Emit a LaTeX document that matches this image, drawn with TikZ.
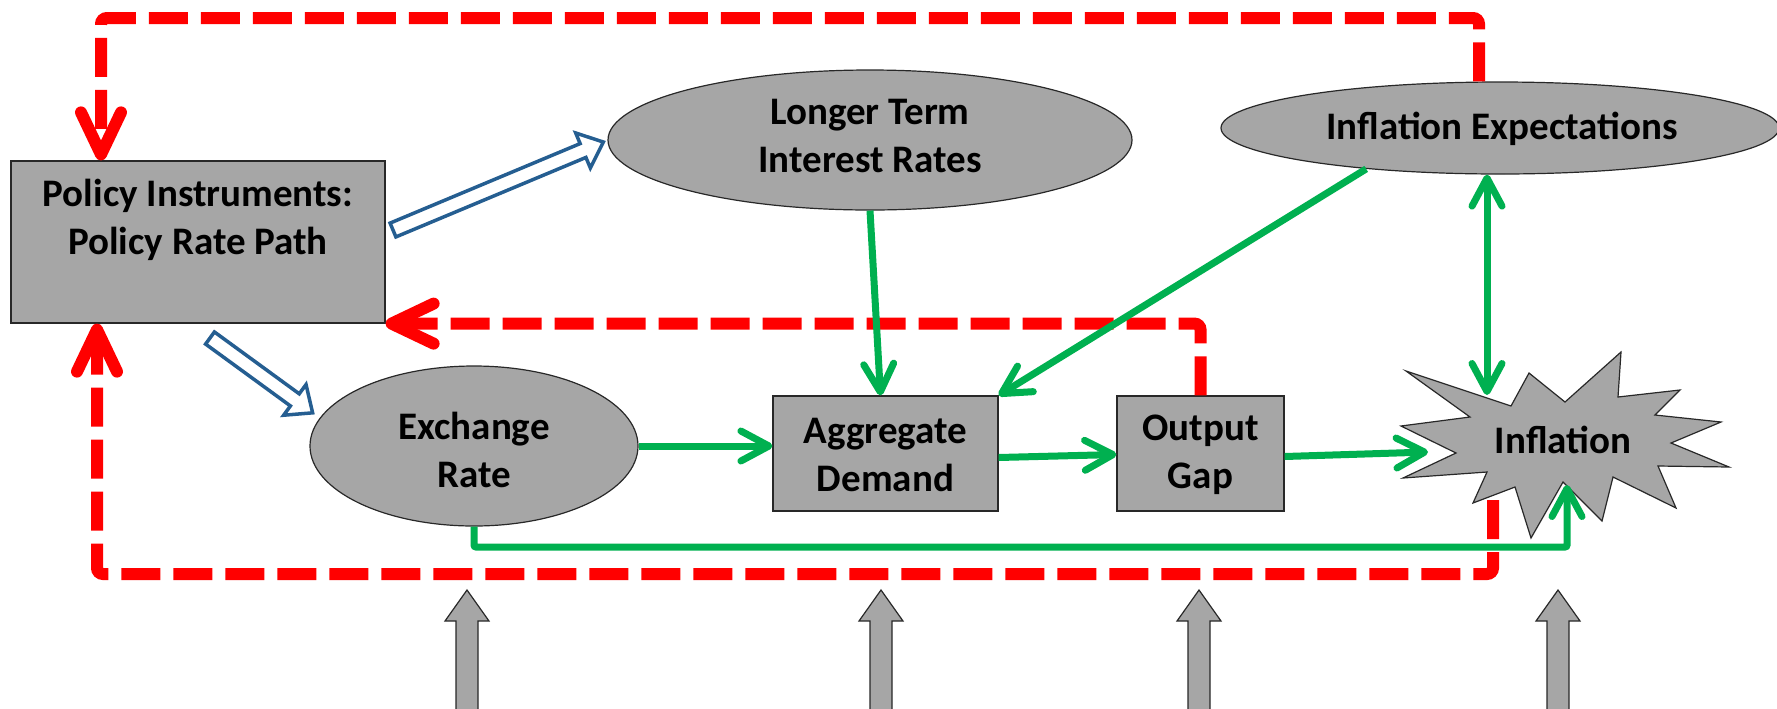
\documentclass[tikz,border=0pt]{standalone}
\usepackage{fontspec}
\setmainfont{Carlito}
\usetikzlibrary{arrows.meta,calc,shapes.geometric}
\definecolor{rl}{RGB}{255,0,0}
\definecolor{gl}{RGB}{0,176,80}
\definecolor{bl}{RGB}{37,94,145}
\definecolor{gf}{RGB}{166,166,166}
\definecolor{bd}{RGB}{40,40,40}
\begin{document}
\begin{tikzpicture}[x=0.5pt,y=-0.5pt,
  box/.style={draw=bd, line width=0.6pt, fill=gf, rectangle, inner sep=0pt},
  ell/.style={draw=bd, line width=0.6pt, fill=gf, ellipse, inner sep=0pt},
  lbl/.style={font=\fontsize{19.5pt}{24pt}\selectfont\bfseries, align=center, inner sep=0pt},
  redloop/.style={draw=rl, line width=6pt, rounded corners=3pt, dash pattern=on 19.5pt off 6.5pt, -{Straight Barb[length=21pt,width=20pt,round]}},
  garrow/.style={draw=gl, line width=3.5pt, -{Straight Barb[length=14pt,width=15pt,round]}},
  blockb/.style={draw=bl, line width=1.75pt, fill=white},
  blockg/.style={draw=bd, line width=0.6pt, fill=gf}]
\useasboundingbox (0,0) rectangle (1777,708);
% boxes and ellipses
\node[box, minimum width=187pt, minimum height=81pt] (pol) at (198,242) {};
\node[lbl] (poltext) at (198,220) {Policy Instruments:\\Policy Rate Path};
\node[ell, minimum width=262pt, minimum height=70pt] (lt) at (870,140) {};
\node[lbl] (lttext) at (870,136) {Longer Term\\Interest Rates};
\node[ell, minimum width=279pt, minimum height=46pt] (ie) at (1500,128) {};
\node[lbl] (ietext) at (1502,129) {Inflation Expectations};
\node[ell, minimum width=164pt, minimum height=80pt] (er) at (474,446) {};
\node[lbl] (ertext) at (474,450) {Exchange\\Rate};
\node[box, minimum width=112.5pt, minimum height=57.5pt] (ad) at (885.5,453.5) {};
\node[lbl] (adtext) at (885.5,455) {Aggregate\\Demand};
\node[box, minimum width=83.5pt, minimum height=57.5pt] (og) at (1200.5,453.5) {};
\node[lbl] (ogtext) at (1200.5,455) {Output\\Gap};
% starburst
\draw[blockg] (1406,371) -- (1511,406) -- (1529,373) -- (1565,402) -- (1621,352) -- (1618,397)
  -- (1680,390) -- (1655,415) -- (1721,422) -- (1671,443) -- (1729,467) -- (1658,466)
  -- (1676,508) -- (1613,477) -- (1602,521) -- (1563,482) -- (1531,538) -- (1515,487)
  -- (1473,503) -- (1487,472) -- (1403,478) -- (1456,453) -- (1401,426) -- (1470,417) -- cycle;
\node[lbl] (infl) at (1563,440) {Inflation};
\coordinate (inflT) at (1487,395);
\coordinate (inflL) at (1428,452);
\coordinate (inflB) at (1567,485);
\coordinate (inflR) at (1493,500);
% red loops
\coordinate (topR) at (1479,18);
\coordinate (topL) at (101,18);
\draw[redloop] (ie.north -| topR) -- (topR) -- (topL) -- (topL |- pol.north);
\draw[redloop] (og.north) -- (og.north |- pol.south east) -- (pol.south east);
\coordinate (botR) at (1493,574);
\coordinate (botL) at (97,574);
\draw[redloop] (inflR) -- (botR) -- (botL) -- (botL |- pol.south);
% green arrows
\draw[garrow] (lt.south) -- ([xshift=-2.5pt]ad.north);
\draw[garrow] (ie.197) -- (ad.north east);
\draw[garrow, {Straight Barb[length=14pt,width=15pt,round]}-{Straight Barb[length=14pt,width=15pt,round]}] (ie.south -| inflT) -- (inflT);
\draw[garrow] (er.east) -- (er.east -| ad.west);
\draw[garrow] ([yshift=-2pt]ad.east) -- ([yshift=-0.5pt]og.west);
\draw[garrow] ([yshift=-1.5pt]og.east) -- (inflL);
\coordinate (gbot) at (1567,547);
\draw[garrow, rounded corners=1pt] (er.south) |- (gbot) -- (inflB);
% blue hollow arrows
\coordinate (b1) at (393,230);
\coordinate (b2) at (210,338);
\begin{scope}[shift={(b1)}, rotate=22.7]
\draw[blockb] (0,7.5) -- (206,7.5) -- (206,19) -- (228,0) -- (206,-19) -- (206,-7.5) -- (0,-7.5) -- cycle;
\end{scope}
\begin{scope}[shift={(b2)}, rotate=-36.1]
\draw[blockb] (0,7.5) -- (105,7.5) -- (105,19) -- (127,0) -- (105,-19) -- (105,-7.5) -- (0,-7.5) -- cycle;
\end{scope}
% gray block arrows
\foreach \x in {467,881,1199,1558}
  \draw[blockg] ({\x-11},712) -- ({\x-11},621) -- ({\x-22},621) -- (\x,590) -- ({\x+22},621) -- ({\x+11},621) -- ({\x+11},712);
\end{tikzpicture}
\end{document}
